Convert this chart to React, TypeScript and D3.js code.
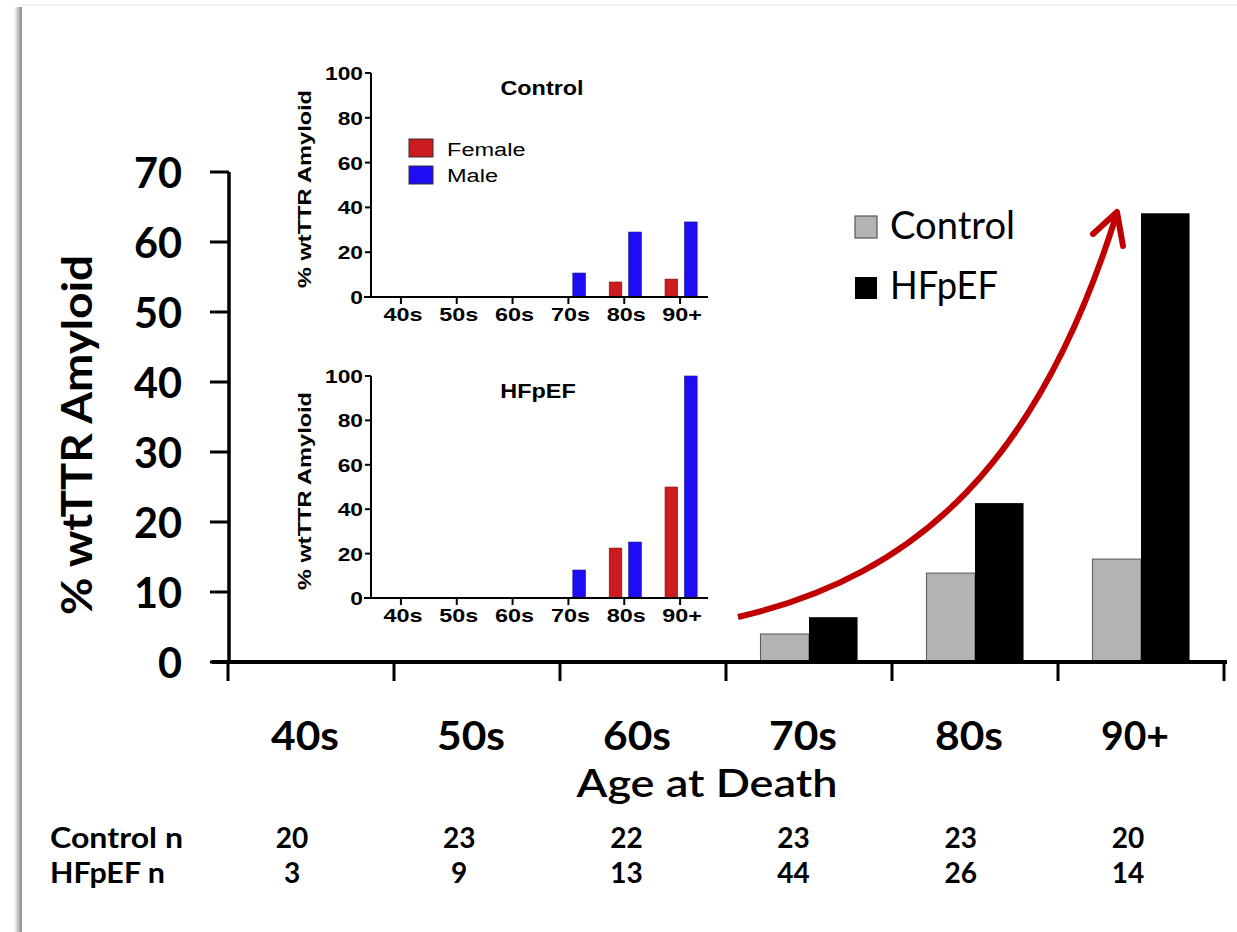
import React from "react";
import * as d3 from "d3";

// age groups and values
const categories = ["40s", "50s", "60s", "70s", "80s", "90+"];
const controlPct = [0, 0, 0, 4.0, 12.7, 14.7];
const hfpefPct = [0, 0, 0, 6.4, 22.7, 64.1];
const controlN = [20, 23, 22, 23, 23, 20];
const hfpefN = [3, 9, 13, 44, 26, 14];
const mainTicks = [0, 10, 20, 30, 40, 50, 60, 70];

const insetTicks = [0, 20, 40, 60, 80, 100];
const ctrlFemale = [0, 0, 0, 0, 6.7, 8];
const ctrlMale = [0, 0, 0, 10.7, 29, 33.5];
const hfFemale = [0, 0, 0, 0, 22.5, 50];
const hfMale = [0, 0, 0, 12.6, 25.2, 100];

const W = 1237;
const H = 932;
const BIG = "Lato, 'Open Sans', sans-serif";
const ARIAL = "'Liberation Sans', Arial, sans-serif";
const RED = "#c00000";
const FEMALE = "#cc1c1f";
const MALE = "#1e0cf5";

// text with horizontal stretch
const T = ({ x, y, sx = 1, anchor = "start", size, weight = 700, family = ARIAL, children, len }: any) => (
  <text
    transform={`translate(${x},${y}) scale(${sx},1)`}
    textAnchor={anchor}
    fontSize={size}
    fontWeight={weight}
    fontFamily={family}
    fill="#000"
    textLength={len}
    lengthAdjust={len ? "spacingAndGlyphs" : undefined}
  >
    {children}
  </text>
);

const Inset = ({ top, bottom, title, titleX, female, male, legend }: any) => {
  const y = d3.scaleLinear().domain([0, 100]).range([bottom, top]);
  const x = d3.scaleBand().domain(categories).range([373, 708]);
  const sub = d3.scaleBand().domain(["F", "M"]).range([-17, 19]).paddingInner(0.35).paddingOuter(0.1);
  const cx = (c: string) => (x(c) as number) + x.bandwidth() / 2;
  return (
    <g>
      {categories.map((c, i) => (
        <g key={c}>
          {female[i] > 0 && (
            <rect x={cx(c) + (sub("F") as number)} y={y(female[i])} width={sub.bandwidth()} height={bottom - y(female[i])} fill={FEMALE} stroke="#7a1010" strokeWidth={0.6} />
          )}
          {male[i] > 0 && (
            <rect x={cx(c) + (sub("M") as number)} y={y(male[i])} width={sub.bandwidth()} height={bottom - y(male[i])} fill={MALE} stroke="#10108a" strokeWidth={0.6} />
          )}
        </g>
      ))}
      <line x1={371} x2={371} y1={top} y2={bottom + 1} stroke="#000" strokeWidth={2} />
      <line x1={364} x2={708} y1={bottom} y2={bottom} stroke="#000" strokeWidth={2} />
      {insetTicks.map((t) => (
        <g key={t}>
          <line x1={365} x2={371} y1={y(t)} y2={y(t)} stroke="#000" strokeWidth={2} />
          <T x={363} y={y(t) + 7} sx={1.2} anchor="end" size={19}>{t}</T>
        </g>
      ))}
      {categories.map((c) => (
        <g key={c}>
          <line x1={cx(c)} x2={cx(c)} y1={bottom} y2={bottom + 7} stroke="#000" strokeWidth={2} />
          <T x={cx(c) + 2} y={bottom + 24} sx={1.3} anchor="middle" size={18}>{c}</T>
        </g>
      ))}
      <text
        transform={`translate(311,${(top + bottom) / 2 + 4}) rotate(-90)`}
        textAnchor="middle"
        fontSize={18}
        fontWeight={700}
        fontFamily={ARIAL}
        textLength={198}
        lengthAdjust="spacingAndGlyphs"
      >
        % wtTTR Amyloid
      </text>
      <T x={titleX} y={top + 22} sx={1.17} anchor="middle" size={20}>{title}</T>
      {legend && (
        <g>
          <rect x={409} y={139} width={24} height={18} fill={FEMALE} stroke="#333" strokeWidth={1} />
          <rect x={409} y={166} width={24} height={18} fill={MALE} stroke="#333" strokeWidth={1} />
          <T x={447} y={156} sx={1.24} size={19} weight={400}>Female</T>
          <T x={447} y={182} sx={1.24} size={19} weight={400}>Male</T>
        </g>
      )}
    </g>
  );
};

export default function App() {
  const y = d3.scaleLinear().domain([0, 70]).range([662, 172]);
  const x = d3.scaleBand().domain(categories).range([228, 1224]);
  const sub = d3.scaleBand().domain(["Control", "HFpEF"]).range([0, x.bandwidth()]).paddingOuter(0.71);
  const tableX = d3.scalePoint().domain(categories).range([292, 1128]);
  const bounds = d3.range(categories.length + 1).map((i) => 228 + i * x.step());

  const arrow = d3.path();
  arrow.moveTo(738, 617);
  arrow.bezierCurveTo(920, 575, 1040, 460, 1117, 213);

  return (
    <svg width={W} height={H} style={{ position: "absolute", left: 0, top: 0, background: "#fff" }}>
      <defs>
        <linearGradient id="shadow" x1="0" x2="1" y1="0" y2="0">
          <stop offset="0" stopColor="#fff" />
          <stop offset="0.6" stopColor="#b8b8b8" />
          <stop offset="1" stopColor="#888" />
        </linearGradient>
      </defs>
      <rect x={0} y={0} width={W} height={H} fill="#fff" />
      <rect x={14} y={7} width={8} height={H - 7} fill="url(#shadow)" />
      <line x1={22} x2={W} y1={5} y2={5} stroke="#eee" strokeWidth={1.5} />

      {/* main bars */}
      {categories.map((c, i) => (
        <g key={c}>
          {controlPct[i] > 0 && (
            <rect x={(x(c) as number) + (sub("Control") as number)} y={y(controlPct[i])} width={sub.bandwidth()} height={662 - y(controlPct[i])} fill="#b3b3b3" stroke="#555" strokeWidth={1} />
          )}
          {hfpefPct[i] > 0 && (
            <rect x={(x(c) as number) + (sub("HFpEF") as number)} y={y(hfpefPct[i])} width={sub.bandwidth()} height={662 - y(hfpefPct[i])} fill="#000" />
          )}
        </g>
      ))}

      {/* main axes */}
      <line x1={229} x2={229} y1={172} y2={664} stroke="#000" strokeWidth={3.5} />
      <line x1={212} x2={1227} y1={662} y2={662} stroke="#000" strokeWidth={4} />
      {mainTicks.map((t) => (
        <g key={t}>
          <line x1={210} x2={229} y1={y(t)} y2={y(t)} stroke="#000" strokeWidth={3} />
          <text x={182} y={y(t) + 16} textAnchor="end" fontSize={42} fontWeight={700} fontFamily={BIG} textLength={t === 0 ? 24 : 48} lengthAdjust="spacingAndGlyphs">
            {t}
          </text>
        </g>
      ))}
      {bounds.map((b, i) => (
        <line key={i} x1={b} x2={b} y1={662} y2={681} stroke="#000" strokeWidth={3} />
      ))}
      {categories.map((c) => (
        <text key={c} x={(x(c) as number) + x.bandwidth() / 2 - 6} y={750} textAnchor="middle" fontSize={40} fontWeight={700} fontFamily={BIG} textLength={68} lengthAdjust="spacingAndGlyphs">
          {c}
        </text>
      ))}
      <text x={707} y={797} textAnchor="middle" fontSize={38} fontWeight={600} fontFamily={BIG} textLength={261} lengthAdjust="spacingAndGlyphs">
        Age at Death
      </text>
      <text transform="translate(92,435) rotate(-90)" textAnchor="middle" fontSize={42} fontWeight={700} fontFamily={BIG} textLength={360} lengthAdjust="spacingAndGlyphs">
        % wtTTR Amyloid
      </text>

      {/* main legend */}
      <rect x={855} y={216} width={22} height={22} fill="#b3b3b3" stroke="#555" strokeWidth={1.2} />
      <rect x={855} y={277} width={22} height={22} fill="#000" />
      <text x={890} y={239} fontSize={38} fontFamily={BIG} textLength={125} lengthAdjust="spacingAndGlyphs">Control</text>
      <text x={890} y={299} fontSize={38} fontFamily={BIG} textLength={108} lengthAdjust="spacingAndGlyphs">HFpEF</text>

      {/* red trend arrow */}
      <path d={arrow.toString()} fill="none" stroke={RED} strokeWidth={6} />
      <path d="M1093,234 L1117,212 L1123,246" fill="none" stroke={RED} strokeWidth={6} strokeLinecap="round" strokeLinejoin="round" />

      {/* insets */}
      <Inset top={73} bottom={297} title="Control" titleX={542} female={ctrlFemale} male={ctrlMale} legend />
      <Inset top={376} bottom={598} title="HFpEF" titleX={538} female={hfFemale} male={hfMale} />

      {/* n table */}
      <text x={50} y={848} fontSize={28} fontWeight={700} fontFamily={BIG} textLength={133} lengthAdjust="spacingAndGlyphs">Control n</text>
      <text x={50} y={883} fontSize={28} fontWeight={700} fontFamily={BIG} textLength={115} lengthAdjust="spacingAndGlyphs">HFpEF n</text>
      {categories.map((c, i) => (
        <g key={c}>
          <text x={tableX(c)} y={848} textAnchor="middle" fontSize={28} fontWeight={700} fontFamily={BIG}>{controlN[i]}</text>
          <text x={tableX(c)} y={883} textAnchor="middle" fontSize={28} fontWeight={700} fontFamily={BIG}>{hfpefN[i]}</text>
        </g>
      ))}
    </svg>
  );
}
